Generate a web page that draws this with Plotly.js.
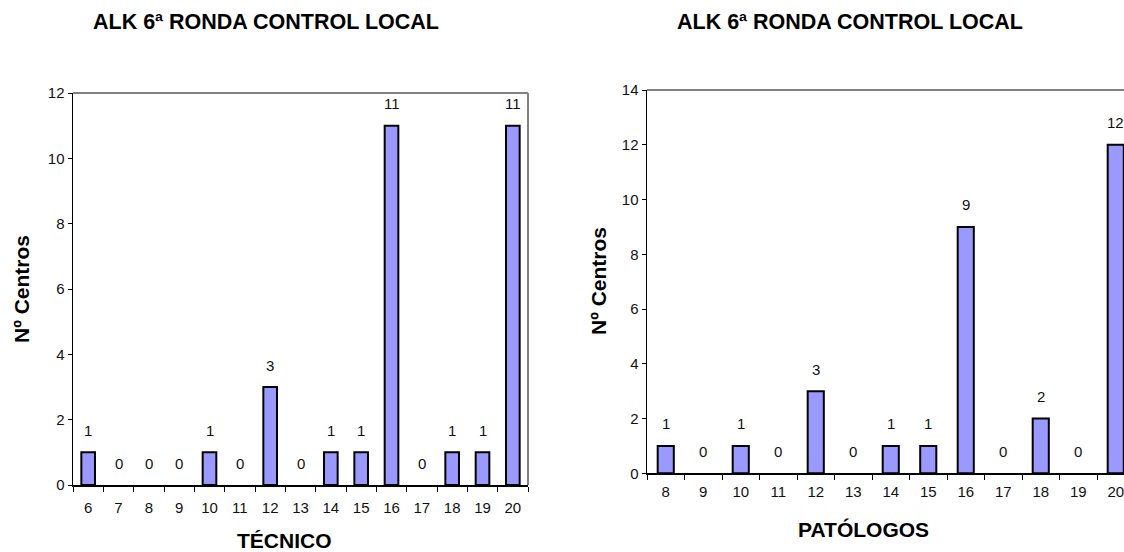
<!DOCTYPE html>
<html>
<head>
<meta charset="utf-8">
<script src="https://cdn.plot.ly/plotly-3.0.1.min.js"></script>
<style>
html,body{margin:0;padding:0;overflow:hidden;background:#fff;width:1124px;height:552px;}
#chart{width:1140px;height:552px;}
</style>
</head>
<body>
<div id="chart"></div>
<script>
// Left chart: TÉCNICO
const tecnicoCategories = ['6','7','8','9','10','11','12','13','14','15','16','17','18','19','20'];
const tecnicoValues = [1,0,0,0,1,0,3,0,1,1,11,0,1,1,11];
// Right chart: PATÓLOGOS
const patologosCategories = ['8','9','10','11','12','13','14','15','16','17','18','19','20'];
const patologosValues = [1,0,1,0,3,0,1,1,9,0,2,0,12];

const chartTitle = 'ALK 6ª RONDA CONTROL LOCAL';
const yTitle = 'Nº Centros';
const xTitleLeft = 'TÉCNICO';
const xTitleRight = 'PATÓLOGOS';

const W = 1140, H = 552;
const FONT = '"Liberation Sans", Arial, sans-serif';
const barColor = '#9999FF';

const traces = [
  {type:'bar', x:tecnicoCategories, y:tecnicoValues, xaxis:'x', yaxis:'y', width:0.45,
   marker:{color:barColor, line:{color:'#000', width:tecnicoValues.map(v=>v>0?2:0)}}, hoverinfo:'x+y'},
  {type:'bar', x:patologosCategories, y:patologosValues, xaxis:'x2', yaxis:'y2', width:0.43,
   marker:{color:barColor, line:{color:'#000', width:patologosValues.map(v=>v>0?2:0)}}, hoverinfo:'x+y'}
];

const annotations = [];
tecnicoValues.forEach((v,i)=>annotations.push({x:i, y:v, xref:'x', yref:'y', text:String(v),
  showarrow:false, yanchor:'middle', yshift:22, font:{family:FONT,size:15,color:'#111'}}));
patologosValues.forEach((v,i)=>annotations.push({x:i, y:v, xref:'x2', yref:'y2', text:String(v),
  showarrow:false, yanchor:'middle', yshift:22, font:{family:FONT,size:15,color:'#111'}}));

function paperAnn(px, py, text, size, angle){
  return {x:px/W, y:1-py/H, xref:'paper', yref:'paper', text:text, showarrow:false,
    xanchor:'center', yanchor:'middle', textangle:angle||0, font:{family:FONT,size:size,color:'#000'}};
}
annotations.push(paperAnn(266, 22, '<b>'+chartTitle+'</b>', 21.5));
annotations.push(paperAnn(850, 22, '<b>'+chartTitle+'</b>', 21.5));
annotations.push(paperAnn(21, 289, '<b>'+yTitle+'</b>', 21));
annotations[annotations.length-1].textangle = -90;
annotations.push(paperAnn(598, 281, '<b>'+yTitle+'</b>', 21, -90));
annotations.push(paperAnn(284, 540, '<b>'+xTitleLeft+'</b>', 21));
annotations.push(paperAnn(863, 529, '<b>'+xTitleRight+'</b>', 21));

const xCommon = {type:'category', showgrid:false, zeroline:false, showline:true, linecolor:'#000', linewidth:1.5,
  ticks:'outside', ticklen:5, tickcolor:'#000', tickson:'boundaries', tickangle:0,
  tickfont:{family:FONT,size:15,color:'#111'}, fixedrange:true};
const yCommon = {showgrid:false, zeroline:false, showline:true, linecolor:'#000', linewidth:1.5,
  ticks:'outside', ticklen:4, tickcolor:'#000', tickfont:{family:FONT,size:15,color:'#111'}, dtick:2, fixedrange:true};

const layout = {
  width:W, height:H, margin:{l:0,r:0,t:0,b:0}, showlegend:false,
  paper_bgcolor:'#fff', plot_bgcolor:'#fff',
  font:{family:FONT},
  xaxis:Object.assign({}, xCommon, {domain:[73/W, 528/W], anchor:'y', ticklabelstandoff:8}),
  yaxis:Object.assign({}, yCommon, {domain:[1-485/H, 1-93/H], range:[0,12], anchor:'x'}),
  xaxis2:Object.assign({}, xCommon, {domain:[647/W, 1134.5/W], anchor:'y2', ticklabelstandoff:4}),
  yaxis2:Object.assign({}, yCommon, {domain:[1-473.3/H, 1-90/H], range:[0,14], anchor:'x2'}),
  annotations:annotations,
  shapes:[
    {type:'line', xref:'x domain', yref:'y domain', x0:0, x1:1, y0:1, y1:1, line:{color:'#808080', width:2}},
    {type:'line', xref:'x domain', yref:'y domain', x0:1, x1:1, y0:0, y1:1, line:{color:'#808080', width:2}},
    {type:'line', xref:'x2 domain', yref:'y2 domain', x0:0, x1:1, y0:1, y1:1, line:{color:'#808080', width:2}},
    {type:'line', xref:'x2 domain', yref:'y2 domain', x0:1, x1:1, y0:0, y1:1, line:{color:'#808080', width:2}}
  ]
};

Plotly.newPlot('chart', traces, layout, {displayModeBar:false, staticPlot:true});
</script>
</body>
</html>
